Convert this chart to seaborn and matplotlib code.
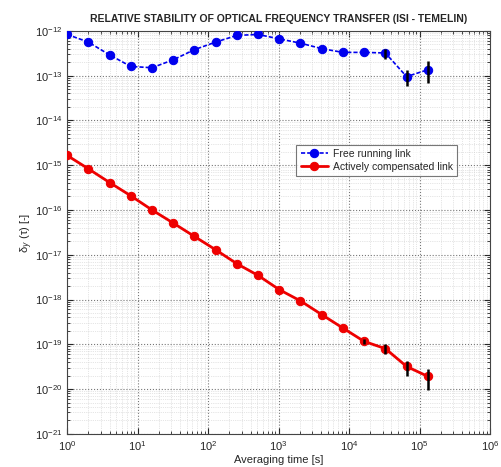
import numpy as np
import pandas as pd
import seaborn as sns
import matplotlib.pyplot as plt
from matplotlib.ticker import FixedLocator, NullFormatter

# averaging times (s)
tau = [1, 2, 4, 8, 16, 32, 64, 128, 256, 512, 1024, 2048, 4096, 8192,
       16384, 32768, 65536, 131072]

# free running link
free = [8.3e-13, 5.6e-13, 2.9e-13, 1.6e-13, 1.5e-13, 2.25e-13, 3.8e-13, 5.6e-13, 7.9e-13,
        8.3e-13, 6.6e-13, 5.3e-13, 4.0e-13, 3.3e-13, 3.3e-13, 3.2e-13, 9.5e-14, 1.35e-13]
free_lo = [None] * 15 + [2.4e-13, 5.9e-14, 7.0e-14]
free_hi = [None] * 15 + [3.96e-13, 1.30e-13, 2.07e-13]

# actively compensated link
comp = [1.65e-15, 8.3e-16, 4.1e-16, 2.07e-16, 1.0e-16, 5.1e-17, 2.56e-17, 1.29e-17, 6.3e-18,
        3.45e-18, 1.66e-18, 9.3e-19, 4.6e-19, 2.3e-19, 1.16e-19, 8.0e-20, 3.2e-20, 1.92e-20]
comp_lo = [None] * 14 + [1.0e-19, 6.2e-20, 2.0e-20, 9.7e-21]
comp_hi = [None] * 14 + [1.33e-19, 1.03e-19, 4.3e-20, 2.85e-20]

xticks = [1e0, 1e1, 1e2, 1e3, 1e4, 1e5, 1e6]
yticks = [1e-21, 1e-20, 1e-19, 1e-18, 1e-17, 1e-16, 1e-15, 1e-14, 1e-13, 1e-12]

df = pd.DataFrame({'tau': tau * 2,
                   'adev': free + comp,
                   'link': ['Free running link'] * len(tau) + ['Actively compensated link'] * len(tau)})

sns.set_style('ticks')
plt.rcParams['font.family'] = ['Liberation Sans', 'DejaVu Sans']

fig = plt.figure(figsize=(5.01, 4.67), dpi=100)
ax = fig.add_axes([0.134, 0.071, 0.844, 0.863])

# error bars (black, behind markers)
for t, lo, hi, v in zip(tau * 2, free_lo + comp_lo, free_hi + comp_hi, free + comp):
    if lo is not None:
        ax.errorbar([t], [v], yerr=[[v - lo], [hi - v]], fmt='none', ecolor='black',
                    elinewidth=1.8, capsize=0, zorder=4)

sns.lineplot(data=df[df.link == 'Free running link'], x='tau', y='adev', ax=ax,
             color='#0000ee', linestyle=(0, (2.5, 1.2)), linewidth=1.2, marker='o', markersize=6,
             markeredgecolor='#0000ee', label='Free running link', zorder=3)
sns.lineplot(data=df[df.link == 'Actively compensated link'], x='tau', y='adev', ax=ax,
             color='#ee0000', linestyle='-', linewidth=2, marker='o', markersize=6,
             markeredgecolor='#ee0000', label='Actively compensated link', zorder=3)

ax.set_xscale('log')
ax.set_yscale('log')
ax.set_xlim(1, 1e6)
ax.set_ylim(1e-21, 1e-12)
ax.xaxis.set_major_locator(FixedLocator(xticks))
ax.yaxis.set_major_locator(FixedLocator(yticks))
ax.xaxis.set_minor_locator(FixedLocator([m * t for t in xticks[:-1] for m in range(2, 10)]))
ax.yaxis.set_minor_locator(FixedLocator([m * t for t in yticks[:-1] for m in range(2, 10)]))
ax.xaxis.set_minor_formatter(NullFormatter())
ax.yaxis.set_minor_formatter(NullFormatter())

ax.grid(True, which='major', linestyle=':', color='#777777', linewidth=0.8)
ax.grid(True, which='minor', linestyle=':', color='#cccccc', linewidth=0.5)
ax.tick_params(which='both', direction='in', top=True, right=True, labelsize=8)
ax.tick_params(which='major', length=4)
ax.tick_params(which='minor', length=2)
for s in ax.spines.values():
    s.set_color('#444444')
    s.set_linewidth(0.8)

ax.set_title('RELATIVE STABILITY OF OPTICAL FREQUENCY TRANSFER (ISI - TEMELIN)',
             fontsize=7.5, fontweight='bold', pad=6)
ax.set_xlabel('Averaging time [s]', fontsize=8, labelpad=2)
ax.set_ylabel('δ$_y$ (τ) [-]', fontsize=8, labelpad=0)

leg = ax.legend(loc='upper left', bbox_to_anchor=(0.53, 0.73), fontsize=7.5,
                frameon=True, fancybox=False, edgecolor='#555555', borderpad=0.4,
                handlelength=2.6, handletextpad=0.5, labelspacing=0.3)
leg.get_frame().set_linewidth(0.8)

fig.savefig('out.png', dpi=100)
